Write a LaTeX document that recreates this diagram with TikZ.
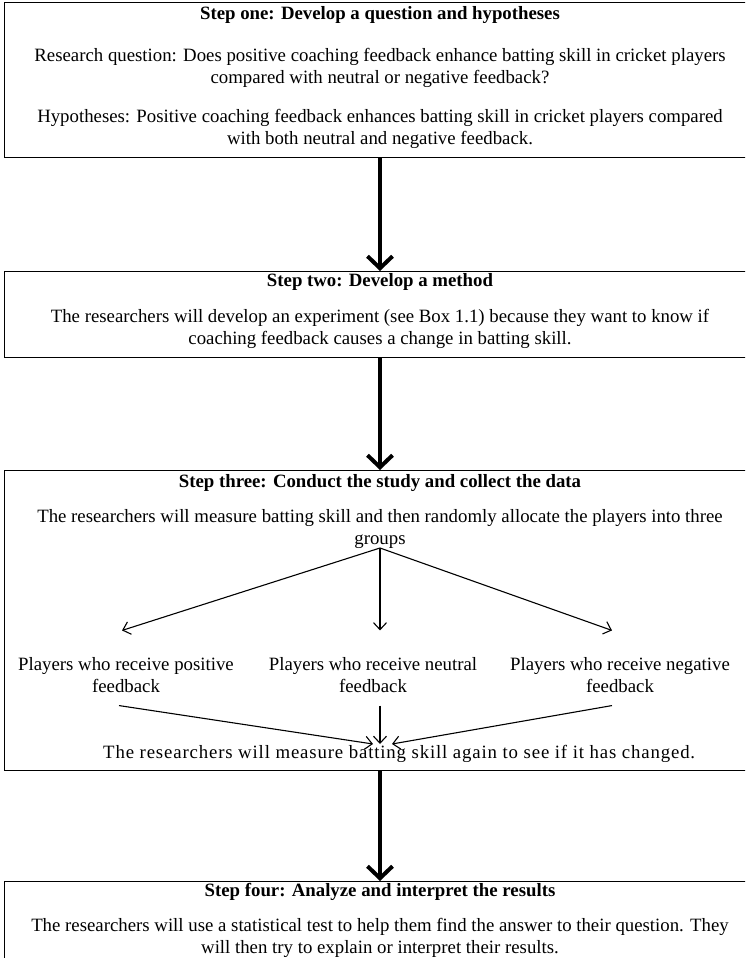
\documentclass[tikz,border=0pt]{standalone}
\usepackage{fontspec}
\setmainfont{Liberation Serif}
\usetikzlibrary{arrows.meta}
\begin{document}
\begin{tikzpicture}[x=1pt,y=-1pt,
  stepbox/.style={draw=black, line width=1.3pt, inner sep=0pt, minimum width=752pt, anchor=north west},
  txt/.style={font=\fontsize{18.8}{21.5}\selectfont, align=center, inner sep=0pt},
  ttl/.style={txt, font=\fontsize{18.8}{21.5}\selectfont\bfseries},
  bigarrow/.style={line width=4pt, -{Straight Barb[length=12pt,width=25pt]}},
  smallarrow/.style={line width=1.1pt, -{Straight Barb[length=7pt,width=13pt]}},
]
\useasboundingbox (0,0) rectangle (745,958);
\clip (0,0) rectangle (745,958);

% the four stage boxes (right and lower edges run past the page)
\node[stepbox, minimum height=155pt] (one)   at (4,2)   {};
\node[stepbox, minimum height=86pt]  (two)   at (4,271) {};
\node[stepbox, minimum height=300pt] (three) at (4,470) {};
\node[stepbox, minimum height=120pt] (four)  at (4,881) {};

% step one
\node[ttl] (t1) at (380,15) {Step one: Develop a question and hypotheses};
\node[txt] (q1) at (380,68) {Research question: Does positive coaching feedback enhance batting skill in cricket players\\compared with neutral or negative feedback?};
\node[txt] (h1) at (380,129) {Hypotheses: Positive coaching feedback enhances batting skill in cricket players compared\\with both neutral and negative feedback.};

% step two
\node[ttl] (t2) at (380,282) {Step two: Develop a method};
\node[txt] (m2) at (380,329) {The researchers will develop an experiment (see Box 1.1) because they want to know if\\coaching feedback causes a change in batting skill.};

% step three
\node[ttl] (t3) at (380,483) {Step three: Conduct the study and collect the data};
\node[txt] (m3) at (380,529) {The researchers will measure batting skill and then randomly allocate the players into three\\groups};
\coordinate (split) at (380,548);
\node[txt] (pos) at (126,675) {Players who receive positive\\feedback};
\node[txt] (neu) at (373,675) {Players who receive neutral\\feedback};
\node[txt] (neg) at (620,675) {Players who receive negative\\feedback};
\node[txt, anchor=west] (again) at (103,754) {\addfontfeatures{LetterSpace=4.5}The researchers will measure batting skill again to see if it has changed.};

% step four
\node[ttl] (t4) at (380,892) {Step four: Analyze and interpret the results};
\node[txt] (r4) at (380,938) {The researchers will use a statistical test to help them find the answer to their question. They\\will then try to explain or interpret their results.};

% links between the stages
\draw[bigarrow] (one.south -| split) -- (two.north -| split);
\draw[bigarrow] (two.south -| split) -- (three.north -| split);
\draw[bigarrow] (three.south -| split) -- (four.north -| split);

% allocation into the three groups
\draw[smallarrow] (split) -- ([shift={(-4pt,27pt)}]pos.north);
\draw[smallarrow] (split) -- ([shift={(7pt,27pt)}]neu.north);
\draw[smallarrow] (split) -- ([shift={(-8pt,27pt)}]neg.north);

% groups back to the second measurement
\coordinate (meet) at (380,744);
\draw[smallarrow] ([shift={(-7pt,-13pt)}]pos.south) -- ([xshift=-7pt]meet);
\draw[smallarrow] ([shift={(7pt,-13pt)}]neu.south) -- (meet);
\draw[smallarrow] ([shift={(-8pt,-13pt)}]neg.south) -- ([xshift=12pt]meet);
\end{tikzpicture}
\end{document}
